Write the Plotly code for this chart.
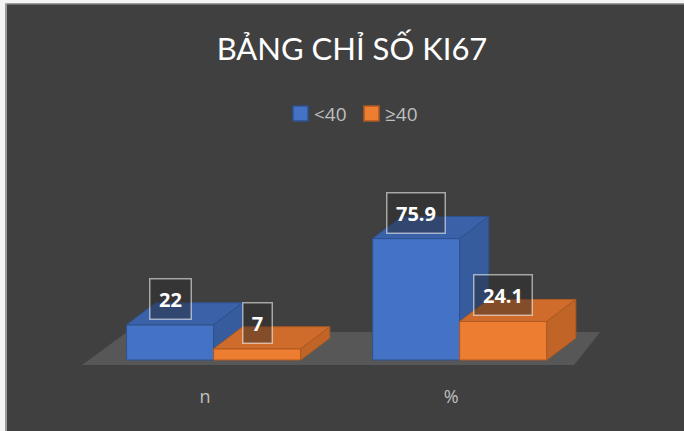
import plotly.graph_objects as go

# ---- data ----
categories = ["n", "%"]
series_names = ["<40", "≥40"]
below_40 = [22, 75.9]
at_least_40 = [7, 24.1]
series_values = [below_40, at_least_40]

# ---- styling ----
front_colors = ["#4472c4", "#ed7d31"]
top_colors = ["#3b62a9", "#cf6c2b"]
side_colors = ["#375c9e", "#c16428"]
edge_colors = ["#2f528f", "#ae5a21"]
BG = "#404040"
FLOOR = "#575757"
TEXT_GREY = "#bfbfbf"

# oblique 3-D look (in axis units)
BAR_W = 0.354
GROUP_SHIFT = 0.035
DEPTH_X = 0.118
DEPTH_Y = 13.75

W, H = 684, 431
ML, MR, MT, MB = 82, 73, 130, 66
X_RANGE = [-0.5, 1.65]
Y_RANGE = [-3.125, 143.75]
PW = W - ML - MR
PH = H - MT - MB


def paper_x(px):
    return (px - ML) / PW


def paper_y(py):
    return (H - MB - py) / PH


def label_width(txt):
    # inner width of a value callout, roughly text width plus a little air
    digits = sum(ch.isdigit() for ch in txt)
    dots = txt.count(".")
    return round(11.4 * digits + 5.5 * dots + 5)


fig = go.Figure()

# floor of the 3-D box
floor_x = [X_RANGE[0], -0.317, 1.606, 1.5, X_RANGE[0]]
floor_y = [Y_RANGE[0], 17.5, 17.5, Y_RANGE[0], Y_RANGE[0]]
fig.add_trace(go.Scatter(x=floor_x, y=floor_y, fill="toself", fillcolor=FLOOR,
                         mode="lines", line=dict(width=0), hoverinfo="skip",
                         showlegend=False))


def face(xs, ys, fill, edge):
    fig.add_trace(go.Scatter(x=xs + [xs[0]], y=ys + [ys[0]], fill="toself",
                             fillcolor=fill, mode="lines",
                             line=dict(color=edge, width=1),
                             hoverinfo="skip", showlegend=False))


annotations = []
for ci, cat in enumerate(categories):
    for si, vals in enumerate(series_values):
        v = vals[ci]
        x0 = ci + GROUP_SHIFT - BAR_W + si * BAR_W
        x1 = x0 + BAR_W
        # front
        face([x0, x1, x1, x0], [0, 0, v, v], front_colors[si], edge_colors[si])
        # top
        face([x0, x1, x1 + DEPTH_X, x0 + DEPTH_X], [v, v, v + DEPTH_Y, v + DEPTH_Y],
             top_colors[si], edge_colors[si])
        # right side
        face([x1, x1 + DEPTH_X, x1 + DEPTH_X, x1], [0, DEPTH_Y, v + DEPTH_Y, v],
             side_colors[si], edge_colors[si])
        txt = f"{v:g}"
        annotations.append(dict(
            x=(x0 + x1) / 2, y=v, xref="x", yref="y", yshift=26,
            text=f"<b>{txt}</b>", showarrow=False, xanchor="center", yanchor="middle",
            width=label_width(txt), align="center",
            font=dict(family="Open Sans", size=20, color="white"),
            bgcolor="rgba(40,40,40,0.45)", bordercolor="rgba(255,255,255,0.55)",
            borderwidth=1.5, borderpad=6))

# legend (keys + labels)
shapes = []
legend_keys = [(293, 312), (364, 383)]
for si, name in enumerate(series_names):
    kx, tx = legend_keys[si]
    shapes.append(dict(type="rect", xref="paper", yref="paper",
                       x0=paper_x(kx), x1=paper_x(kx + 15),
                       y0=paper_y(121), y1=paper_y(106),
                       fillcolor=front_colors[si],
                       line=dict(color=edge_colors[si], width=1.5)))
    annotations.append(dict(x=paper_x(tx), y=paper_y(113.5), xref="paper", yref="paper",
                            text=name, showarrow=False, xanchor="left", yanchor="middle",
                            font=dict(family="Open Sans", size=19, color=TEXT_GREY)))

# light frame on the left and top edges
shapes += [
    dict(type="rect", xref="paper", yref="paper", x0=paper_x(0), x1=paper_x(5.5),
         y0=paper_y(H), y1=paper_y(0), fillcolor="#f4f4f4", line=dict(width=0)),
    dict(type="rect", xref="paper", yref="paper", x0=paper_x(5.5), x1=paper_x(7),
         y0=paper_y(H), y1=paper_y(3.5), fillcolor="#9c9c9c", line=dict(width=0)),
    dict(type="rect", xref="paper", yref="paper", x0=paper_x(0), x1=paper_x(W),
         y0=paper_y(3.5), y1=paper_y(0), fillcolor="#f4f4f4", line=dict(width=0)),
    dict(type="rect", xref="paper", yref="paper", x0=paper_x(5.5), x1=paper_x(W),
         y0=paper_y(4.5), y1=paper_y(3.5), fillcolor="#9c9c9c", line=dict(width=0)),
]

fig.update_layout(
    width=W, height=H,
    margin=dict(l=ML, r=MR, t=MT, b=MB, pad=0),
    paper_bgcolor=BG, plot_bgcolor="rgba(0,0,0,0)",
    showlegend=False,
    title=dict(text="BẢNG CHỈ SỐ KI67", x=352 / W, xref="container", xanchor="center",
               y=1 - 49 / H, yref="container", yanchor="middle",
               font=dict(family="Lato", size=31, color="white")),
    xaxis=dict(range=X_RANGE, tickvals=list(range(len(categories))), ticktext=categories,
               showgrid=False, zeroline=False, showline=False, ticks="",
               ticklabelstandoff=19,
               tickfont=dict(family="Open Sans", size=18, color=TEXT_GREY),
               fixedrange=True),
    yaxis=dict(range=Y_RANGE, visible=False, fixedrange=True),
    shapes=shapes,
    annotations=annotations,
)

fig.write_html("out.html", config={"displayModeBar": False})
